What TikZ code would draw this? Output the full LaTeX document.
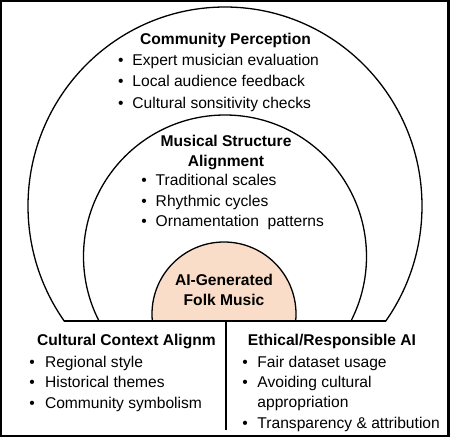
\documentclass[tikz,border=0pt]{standalone}
\usepackage{fontspec}
\setmainfont{Liberation Sans}
\definecolor{peach}{RGB}{250,221,200}
\tikzset{
  arcline/.style={line width=1.3pt, black},
  framebox/.style={line width=2.2pt, black},
  ttl/.style={inner sep=0pt, font=\fontsize{15.6}{20}\selectfont\bfseries},
  lst/.style={inner sep=0pt, anchor=base west, font=\fontsize{15.6}{20.5}\selectfont},
}
\newcommand{\blist}[2]{\begin{tabular}[t]{@{}l@{\hspace{#1}}l@{}}#2\end{tabular}}
\begin{document}
\begin{tikzpicture}[x=1pt,y=-1pt]
\useasboundingbox (0,0) rectangle (450,437);
\fill[white] (0,0) rectangle (450,437);
% frame
\draw[framebox] (1.1,1.1) rectangle (448.5,435.6);
% outer and middle arcs, inner disc, all cut at the base line
\begin{scope}
  \clip (0,0) rectangle (450,321);
  \draw[arcline] (225,206) ellipse [x radius=197, y radius=199];
  \draw[arcline] (225,256.5) circle (141.5);
  \fill[peach] (224,314) circle (72);
  \draw[arcline] (224,314) circle (72);
\end{scope}
\coordinate (bl) at (64.2,321);
\coordinate (br) at (385.8,321);
\coordinate (vt) at (226,321);
\coordinate (vb) at (226,430);
\draw[arcline] (bl) -- (br);
\draw[arcline] (vt) -- (vb);
% Community Perception
\node[ttl, anchor=base] (cpT) at (225.5,44) {Community Perception};
\node[lst, font=\fontsize{15.6}{21.3}\selectfont] (cpL) at (117.8,65.5) {\blist{9pt}{•&Expert musician evaluation\\ •&Local audience feedback\\ •&Cultural sonsitivity checks}};
% Musical Structure Alignment
\node[ttl, anchor=base] (msT) at (226,146.5) {\begin{tabular}[t]{@{}c@{}}Musical Structure\\Alignment\end{tabular}};
\node[lst, font=\fontsize{15.6}{20.4}\selectfont] (msL) at (141.1,185.7) {\blist{9pt}{•&Traditional scales\\ •&Rhythmic cycles\\ •&Ornamentation\ \ patterns}};
% AI-Generated Folk Music
\node[ttl, anchor=base, font=\fontsize{15.6}{19.5}\selectfont\bfseries] (ai) at (224,285.7) {\begin{tabular}[t]{@{}c@{}}AI-Generated\\Folk Music\end{tabular}};
% Cultural Context Alignment
\node[ttl, anchor=base west] (ccT) at (37,345) {Cultural Context Alignm};
\node[lst] (ccL) at (29.1,367.3) {\blist{10.3pt}{•&Regional style\\ •&Historical themes\\ •&Community symbolism}};
% Ethical / Responsible AI
\node[ttl, anchor=base] (erT) at (332,345) {Ethical/Responsible AI};
\node[lst, font=\fontsize{15.6}{20.3}\selectfont] (erL) at (242.1,367.3) {\blist{9.7pt}{•&Fair dataset usage\\ •&Avoiding cultural\\ &appropriation\\ •&Transparency \& attribution}};
\end{tikzpicture}
\end{document}
